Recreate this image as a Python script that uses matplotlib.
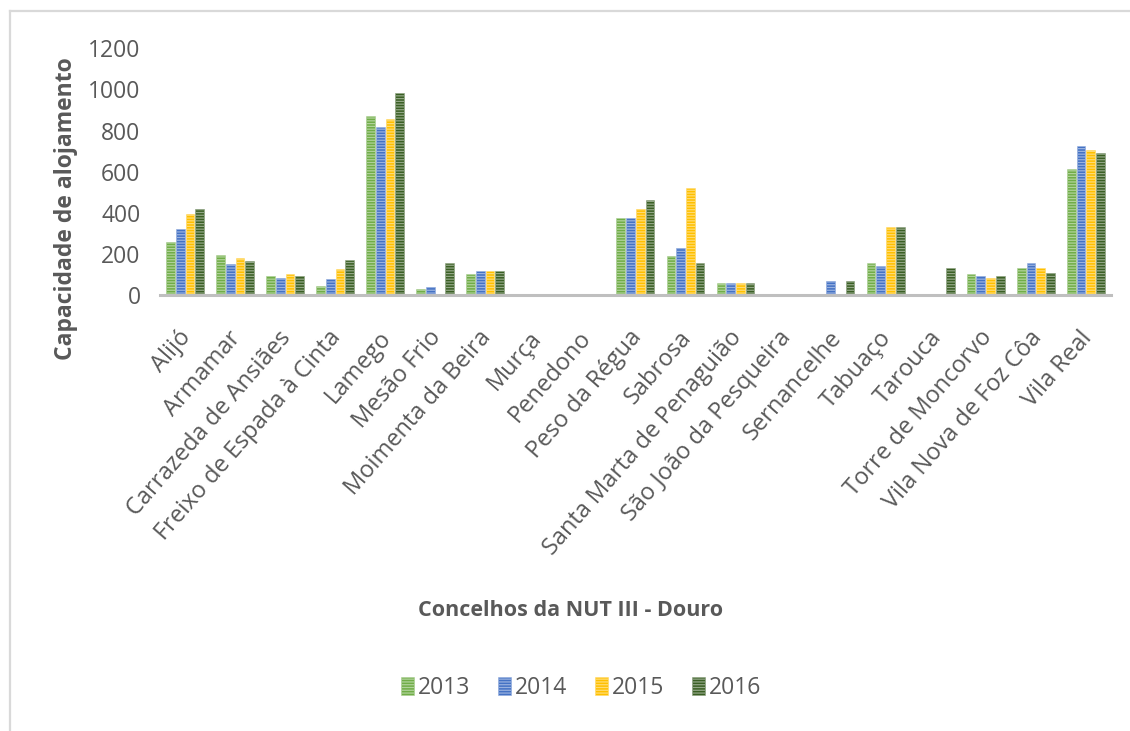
import matplotlib
matplotlib.use("Agg")
import matplotlib.pyplot as plt
import matplotlib.transforms as mtransforms
from matplotlib.lines import Line2D
from matplotlib.colors import to_rgb
import numpy as np

# Tourist accommodation capacity by municipality (NUT III - Douro)
concelhos = [
    "Alijó", "Armamar", "Carrazeda de Ansiães", "Freixo de Espada à Cinta",
    "Lamego", "Mesão Frio", "Moimenta da Beira", "Murça", "Penedono",
    "Peso da Régua", "Sabrosa", "Santa Marta de Penaguião",
    "São João da Pesqueira", "Sernancelhe", "Tabuaço", "Tarouca",
    "Torre de Moncorvo", "Vila Nova de Foz Côa", "Vila Real",
]
anos = ["2013", "2014", "2015", "2016"]
cap_2013 = [260, 197, 95, 48, 871, 32, 103, 0, 0, 377, 189, 62, 0, 0, 158, 0, 103, 134, 613]
cap_2014 = [323, 152, 87, 80, 817, 40, 119, 0, 0, 377, 229, 62, 0, 72, 142, 0, 95, 158, 723]
cap_2015 = [395, 182, 103, 127, 856, 0, 119, 0, 0, 417, 519, 62, 0, 0, 330, 0, 87, 134, 707]
cap_2016 = [417, 166, 95, 174, 982, 158, 119, 0, 0, 464, 158, 62, 0, 72, 330, 134, 95, 111, 691]
y_ticks = [0, 200, 400, 600, 800, 1000, 1200]

series = [cap_2013, cap_2014, cap_2015, cap_2016]
cores = ["#70AD47", "#4472C4", "#FFC000", "#3A5F24"]
texto = "#595959"
fonte = "Open Sans"


def clarear(c, f=0.45):
    r, g, b = to_rgb(c)
    return (r + (1 - r) * f, g + (1 - g) * f, b + (1 - b) * f)


plt.rcParams["hatch.linewidth"] = 0.9
fig = plt.figure(figsize=(11.3, 7.31), dpi=100)
ax = fig.add_axes([0.1416, 0.5958, 0.8414, 0.3385])

x = np.arange(len(concelhos))
passo = 0.194
largura = 0.174
for j, (vals, cor) in enumerate(zip(series, cores)):
    ax.bar(x + (j - 1.5) * passo, vals, width=largura, color=cor,
           edgecolor=clarear(cor), linewidth=0.4, hatch="------",
           label=anos[j], zorder=2)

ax.set_xlim(-0.5, len(concelhos) - 0.5)
ax.set_ylim(0, 1200)
ax.set_yticks(y_ticks)
ax.set_yticklabels([str(v) for v in y_ticks], fontsize=16.5, color=texto,
                   family=fonte)
ax.tick_params(axis="y", length=0, pad=14)
ax.set_xticks(x)
ax.set_xticklabels(concelhos, rotation=49, ha="right", va="top",
                   rotation_mode="anchor", fontsize=17, color=texto,
                   family=fonte)
ax.tick_params(axis="x", length=0, pad=22)
desloc = mtransforms.ScaledTranslation(-7 / 100, 0, fig.dpi_scale_trans)
for lbl in ax.get_xticklabels():
    lbl.set_transform(lbl.get_transform() + desloc)

for s in ["top", "right", "left"]:
    ax.spines[s].set_visible(False)
ax.spines["bottom"].set_color("#BFBFBF")
ax.spines["bottom"].set_linewidth(2.2)
ax.spines["bottom"].set_zorder(3)

fig.text(0.0585, 0.715, "Capacidade de alojamento", rotation=90,
         ha="center", va="center", fontsize=16.5, fontweight="bold",
         color=texto, family=fonte)
fig.text(0.5045, 0.165, "Concelhos da NUT III - Douro", ha="center",
         va="center", fontsize=15.5, fontweight="bold", color=texto,
         family=fonte)

leg = fig.legend(loc="center", bbox_to_anchor=(0.514, 0.059), ncol=4,
                 frameon=False, handlelength=0.6,
                 handleheight=0.8, handletextpad=0.15, columnspacing=1.2,
                 prop={"family": fonte, "size": 16.5})
for t in leg.get_texts():
    t.set_color(texto)

# light frame around the chart area
W, H = 1130, 731
fig.add_artist(Line2D([10 / W, 1129 / W], [1 - 11 / H, 1 - 11 / H],
                      transform=fig.transFigure, color="#D9D9D9", lw=1.6))
fig.add_artist(Line2D([10 / W, 10 / W], [1 - 11 / H, 0],
                      transform=fig.transFigure, color="#D9D9D9", lw=1.6))

fig.savefig("out.png", dpi=100, facecolor="white")
